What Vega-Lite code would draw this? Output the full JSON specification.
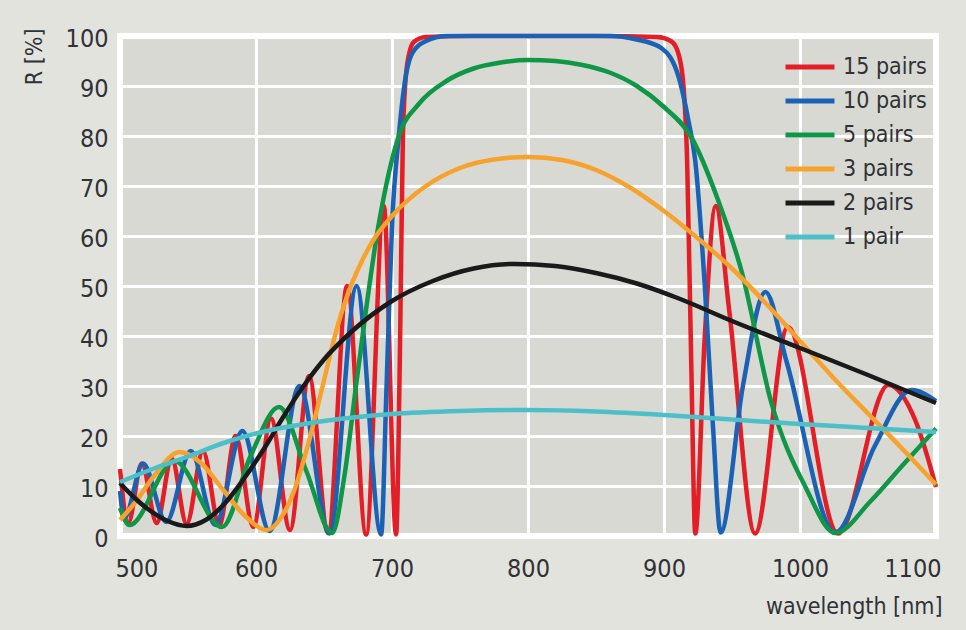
{
"$schema":"https://vega.github.io/schema/vega-lite/v6.json",
"width":816,"height":500,
"autosize":{"type":"none"},
"padding":{"left":120,"top":36,"right":30,"bottom":94},
"background":"#e2e3dd",
"config":{
 "view":{"fill":"#d8d9d2","stroke":"#ffffff","strokeWidth":6},
 "font":"DejaVu Sans Condensed, Liberation Sans Narrow, sans-serif"
},
"data":{"values":[
{"pairs":"15 pairs","wavelength":500,"R":13.4},{"pairs":"15 pairs","wavelength":506,"R":2.6},{"pairs":"15 pairs","wavelength":516,"R":14.5},{"pairs":"15 pairs","wavelength":527,"R":2.6},{"pairs":"15 pairs","wavelength":538,"R":15.5},{"pairs":"15 pairs","wavelength":549,"R":2.4},{"pairs":"15 pairs","wavelength":561,"R":17},{"pairs":"15 pairs","wavelength":573,"R":2.2},{"pairs":"15 pairs","wavelength":585,"R":20},{"pairs":"15 pairs","wavelength":598,"R":1.8},{"pairs":"15 pairs","wavelength":611,"R":23.5},{"pairs":"15 pairs","wavelength":625,"R":1.2},{"pairs":"15 pairs","wavelength":639,"R":32},{"pairs":"15 pairs","wavelength":653,"R":0.6},{"pairs":"15 pairs","wavelength":667,"R":50},{"pairs":"15 pairs","wavelength":681,"R":0.3},{"pairs":"15 pairs","wavelength":694,"R":66},{"pairs":"15 pairs","wavelength":703,"R":0.3},{"pairs":"15 pairs","wavelength":706,"R":40},{"pairs":"15 pairs","wavelength":708,"R":80},{"pairs":"15 pairs","wavelength":711,"R":94},{"pairs":"15 pairs","wavelength":716,"R":98.8},{"pairs":"15 pairs","wavelength":725,"R":99.8},{"pairs":"15 pairs","wavelength":760,"R":100},{"pairs":"15 pairs","wavelength":850,"R":100},{"pairs":"15 pairs","wavelength":895,"R":99.8},{"pairs":"15 pairs","wavelength":905,"R":99},{"pairs":"15 pairs","wavelength":910,"R":97},{"pairs":"15 pairs","wavelength":914,"R":91},{"pairs":"15 pairs","wavelength":917,"R":75},{"pairs":"15 pairs","wavelength":920,"R":35},{"pairs":"15 pairs","wavelength":923,"R":0.5},{"pairs":"15 pairs","wavelength":930,"R":40},{"pairs":"15 pairs","wavelength":938,"R":66},{"pairs":"15 pairs","wavelength":948,"R":45},{"pairs":"15 pairs","wavelength":967,"R":0.5},{"pairs":"15 pairs","wavelength":991,"R":41.8},{"pairs":"15 pairs","wavelength":1028,"R":0.5},{"pairs":"15 pairs","wavelength":1065,"R":30.2},{"pairs":"15 pairs","wavelength":1085,"R":23},{"pairs":"15 pairs","wavelength":1100,"R":9.8},
{"pairs":"10 pairs","wavelength":500,"R":9},{"pairs":"10 pairs","wavelength":503,"R":3.5},{"pairs":"10 pairs","wavelength":517,"R":14.5},{"pairs":"10 pairs","wavelength":534,"R":2.8},{"pairs":"10 pairs","wavelength":552,"R":17},{"pairs":"10 pairs","wavelength":570,"R":2.2},{"pairs":"10 pairs","wavelength":590,"R":21},{"pairs":"10 pairs","wavelength":610,"R":1},{"pairs":"10 pairs","wavelength":632,"R":30},{"pairs":"10 pairs","wavelength":654,"R":0.5},{"pairs":"10 pairs","wavelength":674,"R":50},{"pairs":"10 pairs","wavelength":692,"R":0.3},{"pairs":"10 pairs","wavelength":696,"R":30},{"pairs":"10 pairs","wavelength":700,"R":62},{"pairs":"10 pairs","wavelength":705,"R":80},{"pairs":"10 pairs","wavelength":709,"R":90},{"pairs":"10 pairs","wavelength":715,"R":96.6},{"pairs":"10 pairs","wavelength":725,"R":99},{"pairs":"10 pairs","wavelength":740,"R":100},{"pairs":"10 pairs","wavelength":860,"R":100},{"pairs":"10 pairs","wavelength":880,"R":99.3},{"pairs":"10 pairs","wavelength":898,"R":97.6},{"pairs":"10 pairs","wavelength":911,"R":91.6},{"pairs":"10 pairs","wavelength":918,"R":83},{"pairs":"10 pairs","wavelength":923,"R":75},{"pairs":"10 pairs","wavelength":930,"R":50},{"pairs":"10 pairs","wavelength":936,"R":22},{"pairs":"10 pairs","wavelength":941.6,"R":0.7},{"pairs":"10 pairs","wavelength":958,"R":30},{"pairs":"10 pairs","wavelength":974.6,"R":48.8},{"pairs":"10 pairs","wavelength":990,"R":35},{"pairs":"10 pairs","wavelength":1026,"R":0.7},{"pairs":"10 pairs","wavelength":1055,"R":18},{"pairs":"10 pairs","wavelength":1082,"R":29.2},{"pairs":"10 pairs","wavelength":1100,"R":27},
{"pairs":"5 pairs","wavelength":500,"R":5.6},{"pairs":"5 pairs","wavelength":507,"R":2.2},{"pairs":"5 pairs","wavelength":540,"R":15},{"pairs":"5 pairs","wavelength":575,"R":1.8},{"pairs":"5 pairs","wavelength":596,"R":16},{"pairs":"5 pairs","wavelength":617,"R":25.8},{"pairs":"5 pairs","wavelength":637,"R":13},{"pairs":"5 pairs","wavelength":656,"R":0.6},{"pairs":"5 pairs","wavelength":665,"R":12},{"pairs":"5 pairs","wavelength":674,"R":31},{"pairs":"5 pairs","wavelength":690,"R":62},{"pairs":"5 pairs","wavelength":705,"R":80},{"pairs":"5 pairs","wavelength":720,"R":86.5},{"pairs":"5 pairs","wavelength":740,"R":91},{"pairs":"5 pairs","wavelength":760,"R":93.5},{"pairs":"5 pairs","wavelength":780,"R":94.7},{"pairs":"5 pairs","wavelength":800,"R":95.2},{"pairs":"5 pairs","wavelength":820,"R":95},{"pairs":"5 pairs","wavelength":840,"R":94.2},{"pairs":"5 pairs","wavelength":860,"R":92.7},{"pairs":"5 pairs","wavelength":880,"R":90},{"pairs":"5 pairs","wavelength":900,"R":85.8},{"pairs":"5 pairs","wavelength":920,"R":79.8},{"pairs":"5 pairs","wavelength":940,"R":67},{"pairs":"5 pairs","wavelength":957,"R":53},{"pairs":"5 pairs","wavelength":979,"R":26.6},{"pairs":"5 pairs","wavelength":1004,"R":9.8},{"pairs":"5 pairs","wavelength":1026,"R":0.6},{"pairs":"5 pairs","wavelength":1052,"R":7},{"pairs":"5 pairs","wavelength":1075,"R":14},{"pairs":"5 pairs","wavelength":1100,"R":21.5},
{"pairs":"3 pairs","wavelength":500,"R":3.2},{"pairs":"3 pairs","wavelength":512,"R":7},{"pairs":"3 pairs","wavelength":525,"R":12},{"pairs":"3 pairs","wavelength":544,"R":16.8},{"pairs":"3 pairs","wavelength":560,"R":14.5},{"pairs":"3 pairs","wavelength":575,"R":9.5},{"pairs":"3 pairs","wavelength":592,"R":4},{"pairs":"3 pairs","wavelength":608,"R":1.2},{"pairs":"3 pairs","wavelength":618,"R":3.5},{"pairs":"3 pairs","wavelength":628,"R":9},{"pairs":"3 pairs","wavelength":638,"R":18},{"pairs":"3 pairs","wavelength":649,"R":30},{"pairs":"3 pairs","wavelength":658,"R":40},{"pairs":"3 pairs","wavelength":667,"R":48},{"pairs":"3 pairs","wavelength":677,"R":54.5},{"pairs":"3 pairs","wavelength":687,"R":59.5},{"pairs":"3 pairs","wavelength":700,"R":64},{"pairs":"3 pairs","wavelength":725,"R":70},{"pairs":"3 pairs","wavelength":750,"R":73.6},{"pairs":"3 pairs","wavelength":775,"R":75.3},{"pairs":"3 pairs","wavelength":800,"R":75.8},{"pairs":"3 pairs","wavelength":825,"R":75.2},{"pairs":"3 pairs","wavelength":850,"R":73.2},{"pairs":"3 pairs","wavelength":875,"R":69.7},{"pairs":"3 pairs","wavelength":900,"R":65},{"pairs":"3 pairs","wavelength":925,"R":59.5},{"pairs":"3 pairs","wavelength":950,"R":53.5},{"pairs":"3 pairs","wavelength":975,"R":46.5},{"pairs":"3 pairs","wavelength":1000,"R":39},{"pairs":"3 pairs","wavelength":1025,"R":31.5},{"pairs":"3 pairs","wavelength":1050,"R":24.5},{"pairs":"3 pairs","wavelength":1075,"R":17.5},{"pairs":"3 pairs","wavelength":1100,"R":10.3},
{"pairs":"2 pairs","wavelength":500,"R":10.6},{"pairs":"2 pairs","wavelength":510,"R":7.8},{"pairs":"2 pairs","wavelength":520,"R":5.5},{"pairs":"2 pairs","wavelength":535,"R":3},{"pairs":"2 pairs","wavelength":549,"R":2},{"pairs":"2 pairs","wavelength":563,"R":3.2},{"pairs":"2 pairs","wavelength":578,"R":6.8},{"pairs":"2 pairs","wavelength":592,"R":11.8},{"pairs":"2 pairs","wavelength":606,"R":17.5},{"pairs":"2 pairs","wavelength":620,"R":23.8},{"pairs":"2 pairs","wavelength":635,"R":30},{"pairs":"2 pairs","wavelength":650,"R":35.3},{"pairs":"2 pairs","wavelength":670,"R":40.8},{"pairs":"2 pairs","wavelength":700,"R":47},{"pairs":"2 pairs","wavelength":730,"R":51},{"pairs":"2 pairs","wavelength":760,"R":53.5},{"pairs":"2 pairs","wavelength":790,"R":54.4},{"pairs":"2 pairs","wavelength":820,"R":54},{"pairs":"2 pairs","wavelength":850,"R":52.6},{"pairs":"2 pairs","wavelength":880,"R":50.5},{"pairs":"2 pairs","wavelength":910,"R":47.6},{"pairs":"2 pairs","wavelength":950,"R":43},{"pairs":"2 pairs","wavelength":1000,"R":37.6},{"pairs":"2 pairs","wavelength":1050,"R":32.2},{"pairs":"2 pairs","wavelength":1100,"R":26.6},
{"pairs":"1 pair","wavelength":500,"R":10.8},{"pairs":"1 pair","wavelength":525,"R":13.5},{"pairs":"1 pair","wavelength":551,"R":16},{"pairs":"1 pair","wavelength":575,"R":18.5},{"pairs":"1 pair","wavelength":600,"R":20.5},{"pairs":"1 pair","wavelength":650,"R":23},{"pairs":"1 pair","wavelength":700,"R":24.4},{"pairs":"1 pair","wavelength":750,"R":25},{"pairs":"1 pair","wavelength":800,"R":25.2},{"pairs":"1 pair","wavelength":850,"R":24.9},{"pairs":"1 pair","wavelength":900,"R":24.2},{"pairs":"1 pair","wavelength":950,"R":23.3},{"pairs":"1 pair","wavelength":1000,"R":22.4},{"pairs":"1 pair","wavelength":1050,"R":21.6},{"pairs":"1 pair","wavelength":1100,"R":20.8}
]},
"mark":{"type":"line","interpolate":"monotone","strokeWidth":4.5},
"encoding":{
 "x":{"field":"wavelength","type":"quantitative","scale":{"domain":[500,1100],"nice":false,"zero":false},
   "axis":{"values":[500,600,700,800,900,1000,1100],"format":"d","title":"wavelength [nm]","grid":true,"gridColor":"#ffffff","gridWidth":3,"gridOpacity":1,"domain":false,"ticks":false,
     "labelFontSize":25,"labelColor":"#2f3236","labelPadding":20,"labelFlush":true,"labelFlushOffset":5,
     "titleAnchor":"end","titleAlign":"right","titleX":822,"titleY":77,"titleBaseline":"alphabetic","titleFontSize":23,"titleFontWeight":"normal","titleColor":"#2f3236"}},
 "y":{"field":"R","type":"quantitative","scale":{"domain":[0,100],"nice":false},
   "axis":{"values":[0,10,20,30,40,50,60,70,80,90,100],"format":"d","title":"R [%]","grid":true,"gridColor":"#ffffff","gridWidth":3,"gridOpacity":1,"domain":false,"ticks":false,
     "labelFontSize":25,"labelColor":"#2f3236","labelPadding":12,"labelOffset":2,
     "titleAngle":-90,"titleX":-86,"titleY":-8,"titleAlign":"right","titleBaseline":"middle","titleFontSize":23,"titleFontWeight":"normal","titleColor":"#2f3236"}},
 "color":{"field":"pairs","type":"nominal",
   "scale":{"domain":["15 pairs","10 pairs","5 pairs","3 pairs","2 pairs","1 pair"],"range":["#e31e26","#1b62b6","#0f9747","#f7a22d","#1a1a1a","#4dbfc9"]},
   "legend":{"orient":"none","legendX":675,"legendY":16,"title":null,"symbolType":"M-2,0H2","symbolSize":600,"symbolStrokeWidth":5,"labelFontSize":23,"labelOffset":18,"rowPadding":7,"padding":0,"labelColor":"#2f3236"}}
}
}
